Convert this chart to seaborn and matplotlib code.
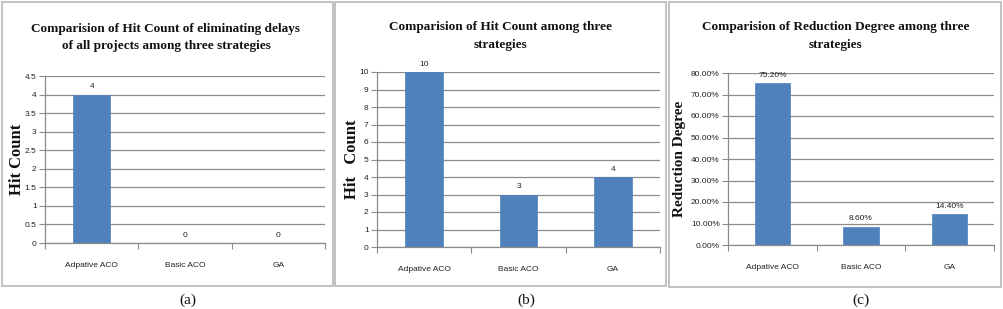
import matplotlib
matplotlib.use("Agg")
import matplotlib.pyplot as plt
import seaborn as sns
import pandas as pd
from matplotlib.patches import Rectangle
from matplotlib.ticker import FixedLocator, NullFormatter

sns.set_theme(style="white")
plt.rcParams['font.family'] = ['Liberation Sans Narrow', 'Liberation Sans', 'DejaVu Sans']

categories = ["Adpative ACO", "Basic ACO", "GA"]
hits_eliminating = [4, 0, 0]
hits_total = [10, 3, 4]
reduction_pct = [75.20, 8.60, 14.40]

labels_a = ["4", "0", "0"]
labels_b = ["10", "3", "4"]
labels_c = ["75.20%", "8.60%", "14.40%"]

yticks_a = [0, 0.5, 1, 1.5, 2, 2.5, 3, 3.5, 4, 4.5]
ytlabels_a = ["0", "0.5", "1", "1.5", "2", "2.5", "3", "3.5", "4", "4.5"]
yticks_b = list(range(0, 11))
ytlabels_b = [str(v) for v in yticks_b]
yticks_c = [0, 10, 20, 30, 40, 50, 60, 70, 80]
ytlabels_c = ["%.2f%%" % v for v in yticks_c]

titles = ["Comparision of Hit Count of eliminating delays\nof all projects among three strategies",
          "Comparision of Hit Count among three\nstrategies",
          "Comparision of Reduction Degree among three\nstrategies"]
ylabels = ["Hit Count", "Hit   Count", "Reduction Degree"]
captions = ["(a)", "(b)", "(c)"]

W, H = 1004, 309
fig = plt.figure(figsize=(W / 100, H / 100), dpi=100)
fig.patch.set_facecolor("white")

BAR = "#4F81BD"
GRID = "#8c8c8c"

# panel frames (pixels): x0, x1, y0(top), y1(bottom)
frames = [(2, 333, 2, 286), (335, 666, 2, 286), (669, 1001, 2, 287)]
for (x0, x1, y0, y1) in frames:
    fig.add_artist(Rectangle((x0 / W, 1 - y1 / H), (x1 - x0) / W, (y1 - y0) / H,
                             transform=fig.transFigure, fill=False,
                             edgecolor="#b8b8b8", linewidth=1.2))

# axes rectangles (pixels): left, right, top, bottom
axrects = [(45, 325, 76, 243), (377, 660, 72, 247), (728, 994, 73, 245)]
title_y = [(26 + 49) / 2, (25 + 47) / 2, (25 + 47) / 2]
title_x = [166, 501, 836]
ylab_x = [17, 352, 680]
ylab_size = [12, 12, 11]
cap_x = [188, 526, 861]

datasets = [hits_eliminating, hits_total, reduction_pct]
dlabels = [labels_a, labels_b, labels_c]
ytk = [yticks_a, yticks_b, yticks_c]
ytl = [ytlabels_a, ytlabels_b, ytlabels_c]
ylims = [(0, 4.5), (0, 10), (0, 80)]

for i in range(3):
    l, r, t, b = axrects[i]
    ax = fig.add_axes([l / W, 1 - b / H, (r - l) / W, (b - t) / H])
    df = pd.DataFrame({"Strategy": categories, "Value": datasets[i]})
    sns.barplot(data=df, x="Strategy", y="Value", ax=ax, color=BAR,
                width=0.4, saturation=1, edgecolor=BAR, linewidth=0.5)
    ax.set_xlim(-0.5, 2.5)
    ax.set_ylim(*ylims[i])
    ax.set_yticks(ytk[i])
    ax.set_yticklabels(ytl[i], fontsize=6.0, color="#222222")
    ax.yaxis.grid(True, color=GRID, linewidth=0.9)
    ax.set_axisbelow(True)
    # x ticks: marks at category boundaries, labels at centers
    ax.xaxis.set_major_locator(FixedLocator([-0.5, 0.5, 1.5, 2.5]))
    ax.xaxis.set_major_formatter(NullFormatter())
    ax.xaxis.set_minor_locator(FixedLocator([0, 1, 2]))
    ax.set_xticklabels(categories, minor=True, fontsize=6.0, color="#222222")
    ax.tick_params(axis="x", which="major", bottom=True, length=4, width=0.8,
                   color=GRID, direction="out")
    ax.tick_params(axis="x", which="minor", bottom=True, length=0, pad=14)
    ax.tick_params(axis="y", left=True, length=4, width=0.8, color=GRID,
                   direction="out", pad=2)
    for s in ["top", "right"]:
        ax.spines[s].set_visible(False)
    ax.spines["left"].set_color(GRID)
    ax.spines["bottom"].set_color(GRID)
    ax.spines["left"].set_linewidth(0.9)
    ax.spines["bottom"].set_linewidth(0.9)
    ax.set_xlabel("")
    ax.set_ylabel("")
    # data labels
    ax.bar_label(ax.containers[0], labels=dlabels[i], padding=3,
                 fontsize=6.0, color="#222222")

    fig.text(title_x[i] / W, 1 - title_y[i] / H, titles[i], ha="center",
             va="center", fontsize=9.5, fontweight="bold",
             family=["Liberation Serif", "DejaVu Serif"], linespacing=1.6,
             color="#111111")
    fig.text(ylab_x[i] / W, 1 - ((t + b) / 2) / H, ylabels[i], rotation=90,
             ha="center", va="center", fontsize=ylab_size[i], fontweight="bold",
             family=["Liberation Serif", "DejaVu Serif"], color="#111111")
    fig.text(cap_x[i] / W, 1 - 300 / H, captions[i], ha="center", va="center",
             fontsize=11, family=["Liberation Serif", "DejaVu Serif"],
             color="#111111")

fig.savefig("out.png", dpi=100, facecolor="white")
